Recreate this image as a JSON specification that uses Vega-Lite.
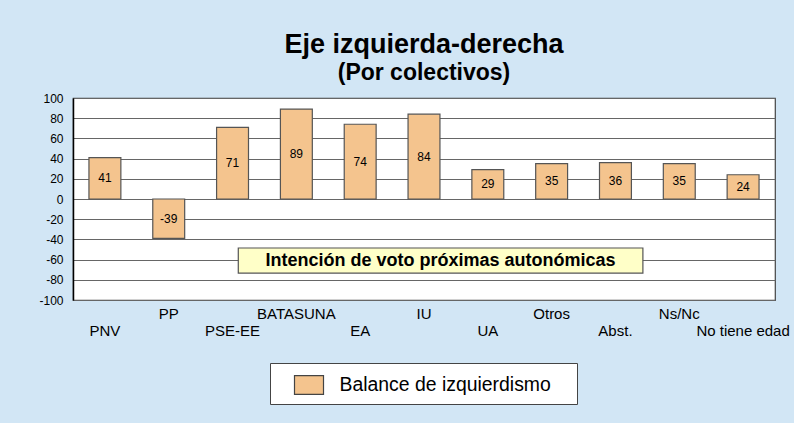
{
  "$schema": "https://vega.github.io/schema/vega-lite/v6.json",
  "autosize": "none",
  "width": 702,
  "height": 202,
  "padding": {"left": 73, "top": 98, "right": 19, "bottom": 123},
  "background": "#D2E6F5",
  "config": {
    "font": "Liberation Sans",
    "view": {"fill": "white", "stroke": "#444", "strokeWidth": 1.2},
    "axisY": {
      "title": null, "labelOverlap": false, "ticks": false, "labelFontSize": 12, "labelColor": "black", "labelPadding": 10,
      "domainColor": "black", "domainWidth": 1.5, "gridColor": "#666", "gridWidth": 1.2, "gridOpacity": 1
    }
  },
  "title": {
    "text": "Eje izquierda-derecha",
    "subtitle": "(Por colectivos)",
    "anchor": "middle",
    "frame": "group",
    "fontSize": 27,
    "fontWeight": "bold",
    "color": "black",
    "subtitleFontSize": 23,
    "subtitleFontWeight": "bold",
    "subtitleColor": "black",
    "subtitlePadding": 3,
    "offset": 6
  },
  "datasets": {
    "bars": [
      {"grupo": "PNV", "valor": 41, "serie": "Balance de izquierdismo"},
      {"grupo": "PP", "valor": -39, "serie": "Balance de izquierdismo"},
      {"grupo": "PSE-EE", "valor": 71, "serie": "Balance de izquierdismo"},
      {"grupo": "BATASUNA", "valor": 89, "serie": "Balance de izquierdismo"},
      {"grupo": "EA", "valor": 74, "serie": "Balance de izquierdismo"},
      {"grupo": "IU", "valor": 84, "serie": "Balance de izquierdismo"},
      {"grupo": "UA", "valor": 29, "serie": "Balance de izquierdismo"},
      {"grupo": "Otros", "valor": 35, "serie": "Balance de izquierdismo"},
      {"grupo": "Abst.", "valor": 36, "serie": "Balance de izquierdismo"},
      {"grupo": "Ns/Nc", "valor": 35, "serie": "Balance de izquierdismo"},
      {"grupo": "No tiene edad", "valor": 24, "serie": "Balance de izquierdismo"}
    ],
    "nota": [
      {"texto": "Intención de voto próximas autonómicas", "x1": 2.59, "x2": 8.93, "y1": -48.5, "y2": -73.3, "xc": 5.76, "yc": -60.9}
    ]
  },
  "layer": [
    {
      "data": {"name": "bars"},
      "layer": [
        {
          "mark": {"type": "bar", "stroke": "#555", "strokeWidth": 1.2},
          "encoding": {
            "x": {
              "field": "grupo", "type": "nominal", "sort": null,
              "scale": {"paddingInner": 0.5, "paddingOuter": 0.25},
              "axis": {
                "title": null, "labelAngle": 0, "ticks": false, "domain": false,
                "labelFontSize": 15, "labelColor": "black",
                "labelPadding": {"condition": {"test": "round(datum.index * 10) % 2 == 1", "value": 6}, "value": 23},
                "labelBaseline": "top", "labelOverlap": false, "labelLimit": 0
              }
            },
            "y": {
              "field": "valor", "type": "quantitative",
              "scale": {"domain": [-100, 100], "nice": false},
              "axis": {"values": [-100, -80, -60, -40, -20, 0, 20, 40, 60, 80, 100], "labelExpr": "'' + datum.value"}
            },
            "fill": {
              "field": "serie", "type": "nominal",
              "scale": {"range": ["#F4C48E"]},
              "legend": {
                "title": null, "orient": "none", "legendX": 197, "legendY": 265,
                "fillColor": "white", "strokeColor": "#444", "padding": 6.5,
                "symbolType": "M-1,-0.65H1V0.65H-1Z", "symbolSize": 841,
                "symbolStrokeColor": "#444", "symbolStrokeWidth": 1.2, "symbolOffset": 17,
                "labelFontSize": 19.4, "labelColor": "black", "labelOffset": 15, "labelLimit": 0,
                "labelExpr": "datum.label + '\u2002\u2002\u200b'"
              }
            }
          }
        },
        {
          "transform": [{"calculate": "datum.valor / 2", "as": "medio"}],
          "mark": {"type": "text", "fontSize": 12, "color": "black", "baseline": "middle"},
          "encoding": {
            "x": {"field": "grupo", "type": "nominal", "sort": null},
            "y": {"field": "medio", "type": "quantitative", "axis": {"values": [-100, -80, -60, -40, -20, 0, 20, 40, 60, 80, 100], "labelExpr": "'' + datum.value"}},
            "text": {"field": "valor", "type": "nominal"}
          }
        }
      ]
    },
    {
      "data": {"name": "nota"},
      "layer": [
        {
          "mark": {"type": "rect", "fill": "#FFFFC8", "stroke": "#555", "strokeWidth": 1.2},
          "encoding": {
            "x": {"field": "x1", "type": "quantitative", "scale": {"domain": [0, 11]}, "axis": null},
            "x2": {"field": "x2"},
            "y": {"field": "y1", "type": "quantitative", "axis": {"values": [-100, -80, -60, -40, -20, 0, 20, 40, 60, 80, 100], "labelExpr": "'' + datum.value"}},
            "y2": {"field": "y2"}
          }
        },
        {
          "mark": {"type": "text", "fontSize": 18, "fontWeight": "bold", "color": "black", "baseline": "middle"},
          "encoding": {
            "x": {"field": "xc", "type": "quantitative", "scale": {"domain": [0, 11]}, "axis": null},
            "y": {"field": "yc", "type": "quantitative", "axis": {"values": [-100, -80, -60, -40, -20, 0, 20, 40, 60, 80, 100], "labelExpr": "'' + datum.value"}},
            "text": {"field": "texto"}
          }
        }
      ]
    }
  ],
  "resolve": {"scale": {"x": "independent"}}
}
